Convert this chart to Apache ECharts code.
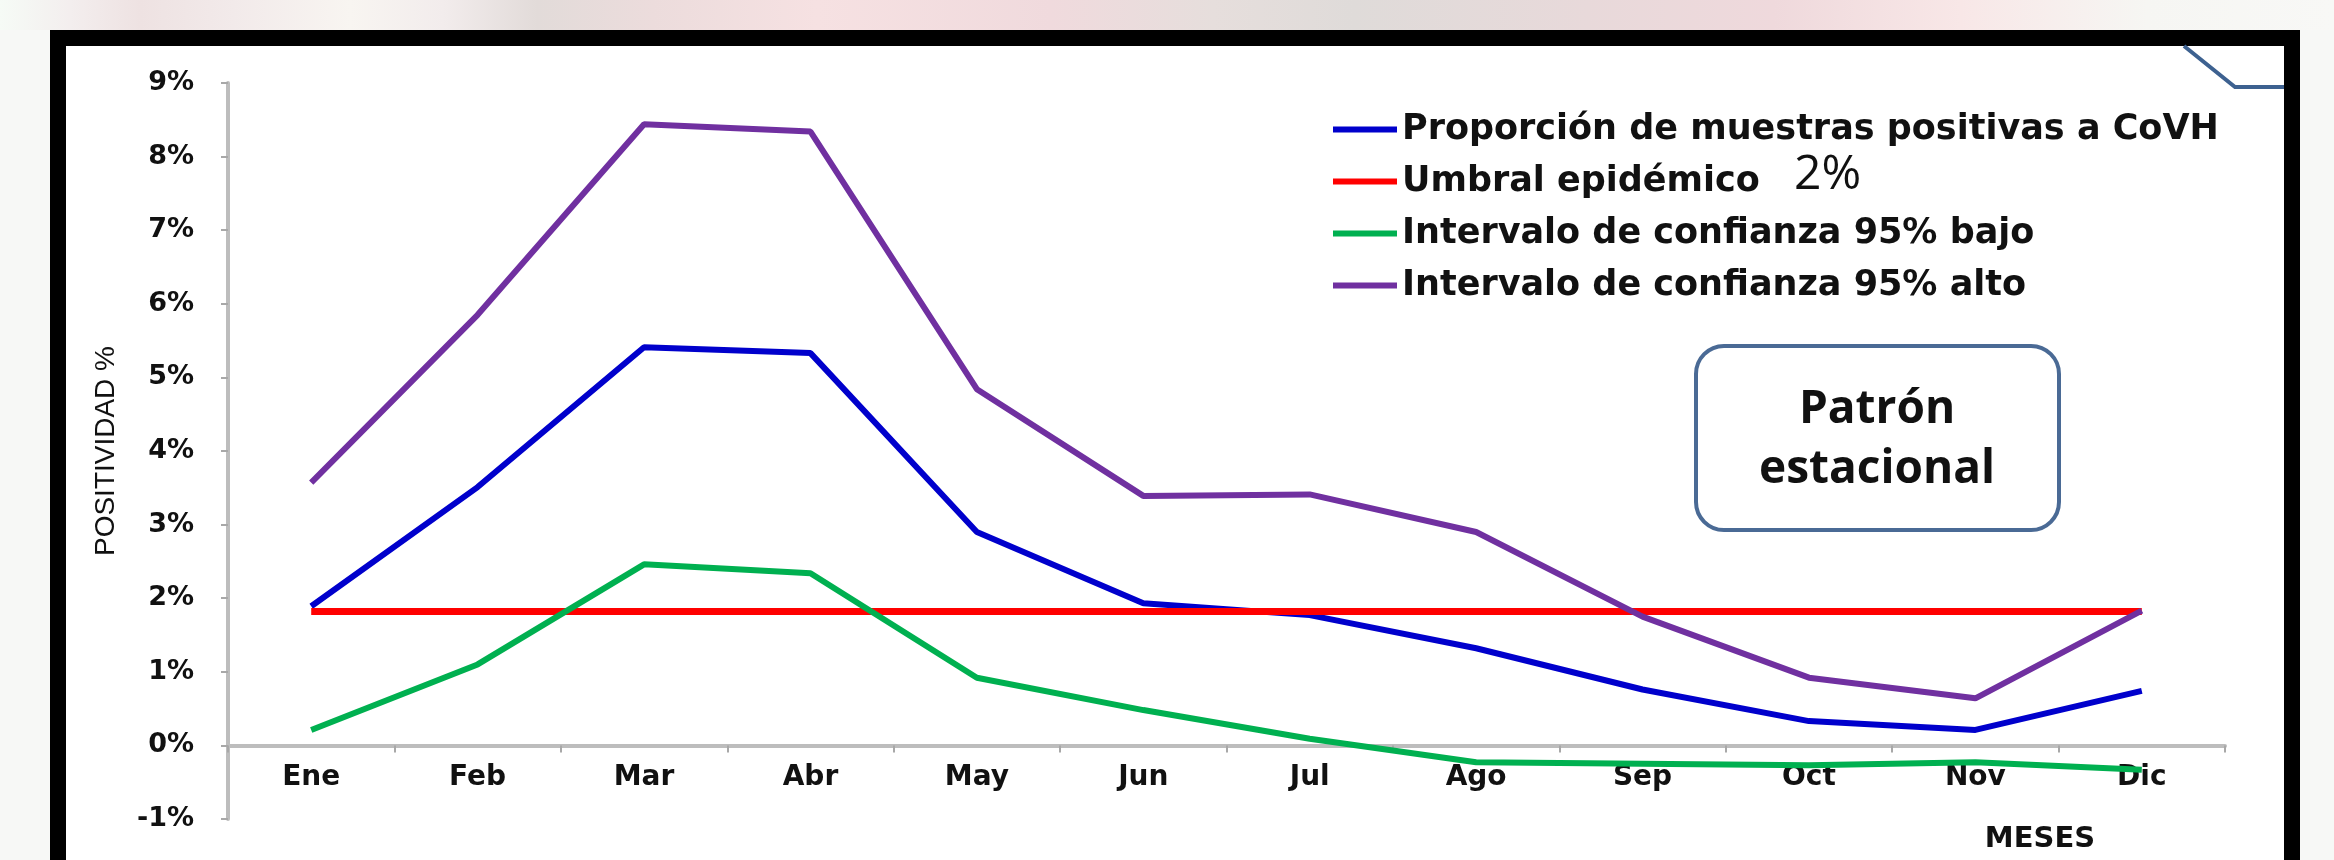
<!DOCTYPE html>
<html><head><meta charset="utf-8">
<script src="https://cdn.jsdelivr.net/npm/echarts@6/dist/echarts.min.js"></script>
<style>html,body{margin:0;padding:0;background:#f7f8f6;}#c{width:2334px;height:860px;}</style>
</head><body><div id="c"></div>
<script>
// ---- data ----
const months = ['Ene','Feb','Mar','Abr','May','Jun','Jul','Ago','Sep','Oct','Nov','Dic'];
const positivas = [1.89, 3.51, 5.41, 5.33, 2.90, 1.93, 1.77, 1.32, 0.76, 0.33, 0.21, 0.74];
const umbral    = [1.82, 1.82, 1.82, 1.82, 1.82, 1.82, 1.82, 1.82, 1.82, 1.82, 1.82, 1.82];
const icBajo    = [0.21, 1.10, 2.46, 2.34, 0.92, 0.48, 0.09, -0.23, -0.25, -0.27, -0.23, -0.33];
const icAlto    = [3.57, 5.85, 8.44, 8.34, 4.84, 3.39, 3.41, 2.90, 1.75, 0.92, 0.64, 1.83];
const seriesNames = ['Proporción de muestras positivas a CoVH','Umbral epidémico','Intervalo de confianza 95% bajo','Intervalo de confianza 95% alto'];
const seriesColors = ['#0000CC','#FF0000','#00B050','#7030A0'];
const yMin = -1, yMax = 9, yStep = 1;
const yAxisTitle = 'POSITIVIDAD %';
const xAxisTitle = 'MESES';
const umbralNote = '2%';
const boxText = 'Patrón\nestacional';

const chart = echarts.init(document.getElementById('c'), null, {renderer:'canvas'});
const lab = 'DejaVu Sans';
const allData = [positivas, umbral, icBajo, icAlto];
const gridTop = 83, gridBottom = 41, H = 860;
// move the category axis up so it sits on the value 0 (all parts move together)
const zeroOffset = -((H - gridBottom - gridTop) * (0 - yMin) / (yMax - yMin));

chart.setOption({
  animation: false,
  backgroundColor: '#f7f8f6',
  grid: {left: 228, right: 109, top: gridTop, bottom: gridBottom, containLabel: false},
  legend: {
    orient: 'vertical', left: 1328, top: 107, itemWidth: 64, itemHeight: 6, itemGap: 17,
    icon: 'rect',
    textStyle: {fontFamily: lab, fontWeight: 'bold', fontSize: 35, lineHeight: 35, color: '#111'},
    data: seriesNames
  },
  xAxis: {
    type: 'category', data: months, boundaryGap: true, offset: zeroOffset,
    axisLine: {onZero: false, lineStyle: {color: '#bdbdbd', width: 4}},
    axisTick: {show: true, length: 7, lineStyle: {color: '#a8a8a8', width: 2}},
    axisLabel: {fontFamily: lab, fontWeight: 'bold', fontSize: 28, color: '#111', margin: 18, interval: 0},
    splitLine: {show: false},
    name: xAxisTitle, nameLocation: 'end', nameGap: -185, nameMoveOverlap: false,
    nameTextStyle: {fontFamily: lab, fontWeight: 'bold', fontSize: 29, color: '#111', align: 'center', verticalAlign: 'top', padding: [80,0,0,0]}
  },
  yAxis: {
    type: 'value', min: yMin, max: yMax, interval: yStep,
    axisLine: {show: true, lineStyle: {color: '#bdbdbd', width: 4}},
    axisTick: {show: true, length: 7, lineStyle: {color: '#a8a8a8', width: 2}},
    axisLabel: {fontFamily: lab, fontWeight: 'bold', fontSize: 27, color: '#111', margin: 34, formatter: '{value}%'},
    splitLine: {show: false},
    name: yAxisTitle, nameLocation: 'middle', nameRotate: 90, nameGap: 108, nameMoveOverlap: false,
    nameTextStyle: {fontFamily: 'Liberation Sans', fontSize: 28, color: '#111'}
  },
  series: seriesNames.map((n, i) => ({
    name: n, type: 'line', data: allData[i], symbol: 'none', smooth: false,
    lineStyle: {color: seriesColors[i], width: i === 1 ? 7 : 6},
    itemStyle: {color: seriesColors[i]},
    z: 2 + i
  })),
  graphic: [
    {type: 'rect', z: -100, silent: true, shape: {x: 0, y: 0, width: 2334, height: 30},
     style: {fill: new echarts.graphic.LinearGradient(0, 0, 1, 0, [
       {offset: 0, color: '#f6fbf6'}, {offset: 0.03, color: '#f3eeee'}, {offset: 0.06, color: '#eee2e2'},
       {offset: 0.10, color: '#f2eaea'}, {offset: 0.15, color: '#f8f5f1'}, {offset: 0.19, color: '#f2ecec'},
       {offset: 0.23, color: '#e2dbd9'}, {offset: 0.28, color: '#ecdcdc'}, {offset: 0.35, color: '#f6e1e2'},
       {offset: 0.45, color: '#f0dadd'}, {offset: 0.52, color: '#e6dedc'}, {offset: 0.58, color: '#dfdbd9'},
       {offset: 0.68, color: '#e8d9da'}, {offset: 0.76, color: '#efd9dc'}, {offset: 0.84, color: '#f8e7e7'},
       {offset: 0.92, color: '#f6f6f3'}, {offset: 1, color: '#f8f8f6'}])}},
    {type: 'rect', z: -99, silent: true, shape: {x: 50, y: 30, width: 2250, height: 840}, style: {fill: '#000'}},
    {type: 'rect', z: -98, silent: true, shape: {x: 66, y: 46, width: 2218, height: 840}, style: {fill: '#fff'}},
    {type: 'polyline', z: 1, silent: true, shape: {points: [[2184, 46], [2235, 87], [2284, 87]]},
     style: {stroke: '#3d6190', lineWidth: 4, fill: null}},
    {type: 'text', z: 10, silent: true, x: 1794, y: 175,
     style: {text: umbralNote, fontFamily: 'Open Sans', fontSize: 48, fill: '#111', verticalAlign: 'middle', align: 'left'}},
    {type: 'rect', z: 10, silent: true, shape: {x: 1696, y: 346, width: 363, height: 184, r: 28},
     style: {fill: '#fff', stroke: '#4a6a95', lineWidth: 4}},
    {type: 'text', z: 11, silent: true, x: 1877, y: 440,
     style: {text: boxText, fontFamily: 'Open Sans', fontWeight: 'bold', fontSize: 46, lineHeight: 60, fill: '#111', align: 'center', verticalAlign: 'middle'}}
  ]
});
</script></body></html>
